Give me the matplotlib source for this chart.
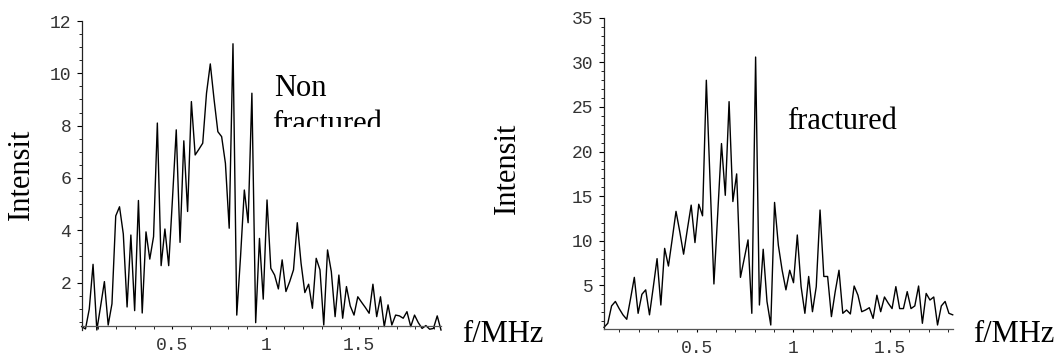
import numpy as np
import matplotlib
matplotlib.use("Agg")
import matplotlib.pyplot as plt
from matplotlib.patches import Rectangle
from matplotlib.ticker import MultipleLocator

# spectrum of the non fractured sample
nonfrac_f = np.linspace(0.0155, 1.937, 96)
nonfrac_i = [0.32, 0.23, 0.99, 2.7, 0.19, 1.1, 2.04, 0.38, 1.19, 4.55,
             4.9, 3.86, 1.07, 3.82, 0.93, 5.14, 0.84, 3.94, 2.9, 3.76,
             8.1, 2.65, 4.05, 2.65, 5.2, 7.84, 3.54, 7.42, 4.72, 8.92,
             6.88, 7.1, 7.33, 9.24, 10.36, 9.0, 7.77, 7.58, 6.56, 4.08,
             11.13, 0.76, 3.0, 5.54, 4.29, 9.24, 0.47, 3.69, 1.37, 5.16,
             2.55, 2.29, 1.76, 2.87, 1.66, 2.04, 2.49, 4.29, 2.74, 1.62,
             1.94, 1.02, 2.93, 2.49, 0.38, 3.25, 2.42, 0.7, 2.29, 0.64,
             1.85, 1.11, 0.76, 1.46, 1.25, 1.05, 0.83, 1.94, 0.7, 1.46,
             0.32, 1.15, 0.38, 0.76, 0.73, 0.64, 0.89, 0.32, 0.76, 0.47,
             0.25, 0.36, 0.22, 0.25, 0.73, 0.19]

# spectrum of the fractured sample
frac_f = np.linspace(0.02, 1.825, 93)
frac_i = [0.3, 0.75, 2.7, 3.2, 2.4, 1.7, 1.2, 3.5, 5.9, 1.87,
          4.0, 4.5, 1.7, 4.8, 8.0, 2.8, 9.15, 7.17, 10.2, 13.3,
          11.0, 8.5, 11.3, 14.0, 9.8, 14.1, 12.8, 28.0, 16.5, 5.16,
          13.0, 20.9, 15.1, 25.6, 14.4, 17.5, 5.9, 8.0, 10.1, 1.87,
          30.6, 2.8, 9.05, 3.2, 0.56, 14.3, 9.5, 6.7, 4.5, 6.7,
          5.3, 10.65, 4.86, 1.87, 6.0, 2.05, 4.86, 13.45, 6.0, 6.0,
          1.5, 4.3, 6.7, 1.87, 2.24, 1.8, 4.93, 3.9, 2.05, 2.24,
          2.5, 1.3, 3.9, 2.05, 3.7, 3.0, 2.4, 4.86, 2.4, 2.4,
          4.3, 2.4, 2.7, 4.93, 0.75, 4.1, 3.36, 3.7, 0.56, 2.7,
          3.2, 1.87, 1.7]

W, H = 1061, 356
fig = plt.figure(figsize=(W / 100, H / 100), dpi=100)

serif = "Liberation Serif"
mono = "Liberation Mono"


def px(x, y):
    return x / W, 1 - y / H


def style(ax, ymajor, yminor, yaxis_at):
    for s in ["top", "right"]:
        ax.spines[s].set_visible(False)
    ax.spines["bottom"].set_position(("data", yaxis_at))
    ax.spines["bottom"].set_color("#555555")
    ax.spines["left"].set_color("#222222")
    ax.spines["left"].set_linewidth(0.9)
    ax.spines["bottom"].set_linewidth(0.9)
    ax.xaxis.set_major_locator(MultipleLocator(0.5))
    ax.xaxis.set_minor_locator(MultipleLocator(0.1))
    ax.yaxis.set_major_locator(MultipleLocator(ymajor))
    ax.yaxis.set_minor_locator(MultipleLocator(yminor))
    ax.tick_params(which="major", direction="out", length=3.5, width=0.8, pad=4)
    ax.tick_params(which="minor", direction="out", length=2, width=0.6)
    ax.tick_params(axis="x", which="both", pad=5, length=2.5)
    ax.tick_params(labelcolor="#333333")
    ax.xaxis.set_major_formatter(plt.FuncFormatter(lambda v, p: "%g" % v))
    for lab in ax.get_xticklabels() + ax.get_yticklabels():
        lab.set_fontfamily(mono)
        lab.set_fontsize(13)


# left panel
ax1 = fig.add_axes([81.7 / W, 26 / H, 359.3 / W, 309 / H])
ax1.plot(nonfrac_f, nonfrac_i, color="black", lw=1.0, clip_on=False)
ax1.set_xlim(0.0155, 1.937)
ax1.set_ylim(0.19, 12)
style(ax1, 2, 0.5, 0.33)

# right panel
ax2 = fig.add_axes([604 / W, 26.9 / H, 348.7 / W, 311.3 / H])
ax2.plot(frac_f, frac_i, color="black", lw=1.0, clip_on=False)
ax2.set_xlim(0.02, 1.825)
ax2.set_ylim(0.1, 35)
style(ax2, 5, 1, 0.1)

# annotations
fs = 22
fig.text(*px(21, 174), "Intensit", rotation=90, ha="center", va="center",
         family=serif, fontsize=fs)
fig.text(*px(507, 168), "Intensit", rotation=90, ha="center", va="center",
         family=serif, fontsize=fs)
fig.text(*px(462, 342), "f/MHz", ha="left", va="baseline", family=serif, fontsize=fs)
fig.text(*px(973, 342), "f/MHz", ha="left", va="baseline", family=serif, fontsize=fs)
fig.text(*px(274, 96), "Non", ha="left", va="baseline", family=serif, fontsize=fs)
t = fig.text(*px(272, 132), "fractured", ha="left", va="baseline",
             family=serif, fontsize=fs)
clip = Rectangle(px(0, 127), 1, 127 / H, transform=fig.transFigure,
                 facecolor="none", edgecolor="none")
t.set_clip_path(clip)
fig.text(*px(787, 129), "fractured", ha="left", va="baseline", family=serif, fontsize=fs)

fig.savefig("out.png", dpi=100)
